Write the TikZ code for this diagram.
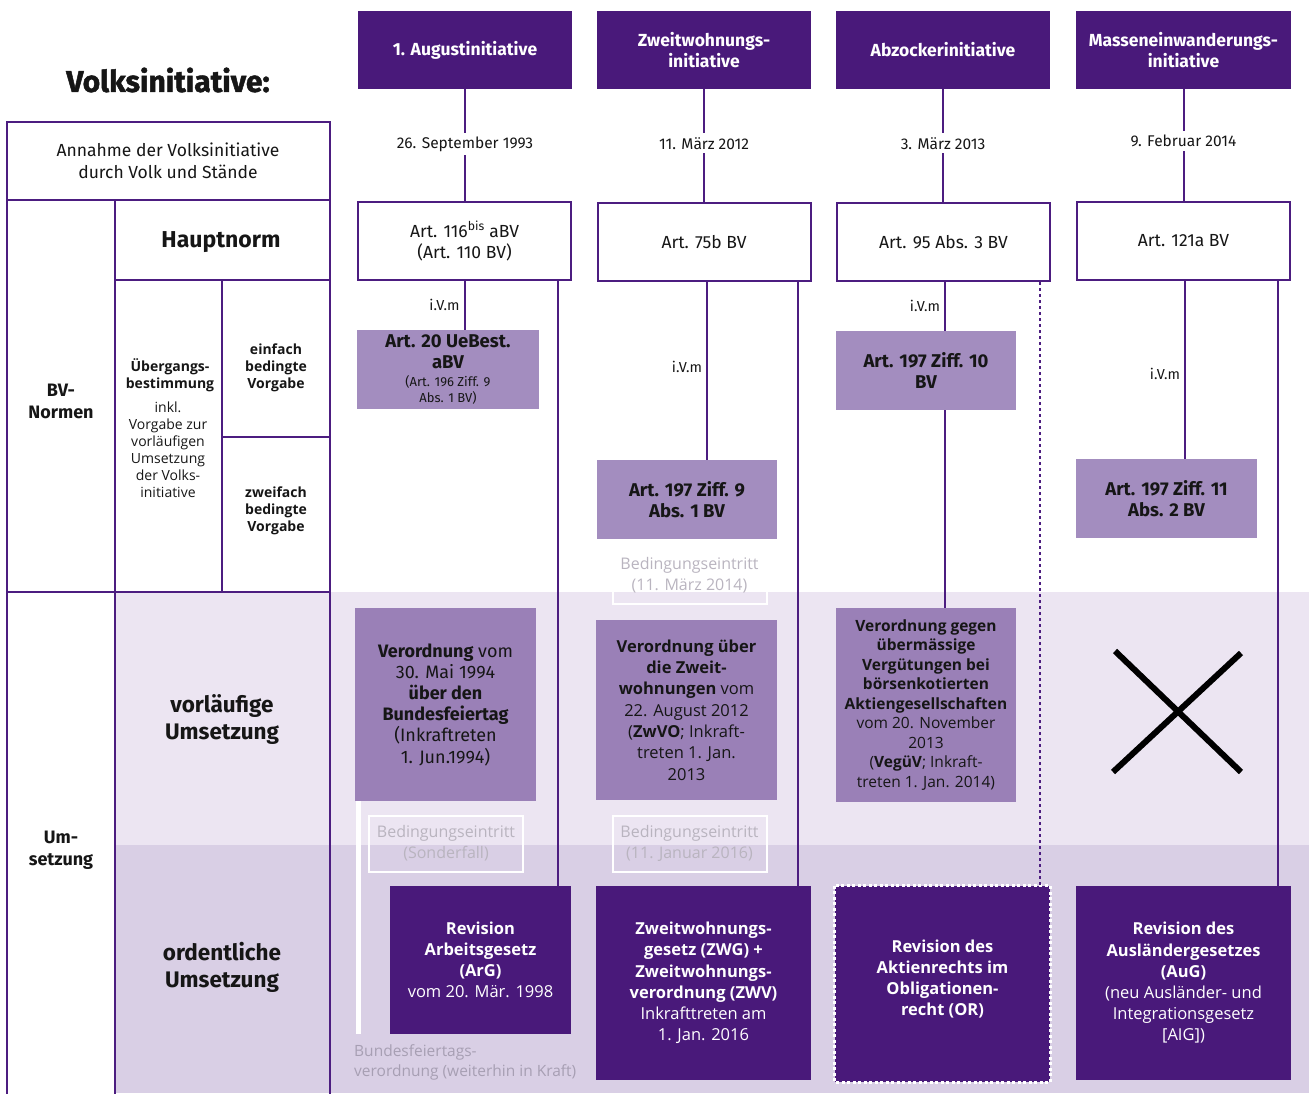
\documentclass[tikz,border=0pt]{standalone}
\usepackage{fontspec}
\setmainfont{Fira Sans}
\newfontfamily\wf{Open Sans}
\newfontfamily\heavyf[BoldFeatures={FakeBold=1.6}]{Fira Sans}
\usetikzlibrary{calc}
\definecolor{dpur}{HTML}{49197A}
\definecolor{lnpur}{HTML}{4C1D80}
\definecolor{mpA}{HTML}{A38DBF}
\definecolor{mpB}{HTML}{9A80B7}
\definecolor{bandA}{HTML}{ECE5F2}
\definecolor{bandB}{HTML}{D9CFE5}
\definecolor{bedgray}{HTML}{B9B4BF}
\definecolor{bftgray}{HTML}{A79FB3}
\definecolor{ink}{HTML}{161616}
\newcommand\fsz[2]{\fontsize{#1pt}{#2pt}\selectfont}
\begin{document}
\begin{tikzpicture}[x=1pt,y=-1pt,
  hdr/.style={fill=dpur, text=white, font=\bfseries\fsz{17.5}{21}, minimum width=214pt, minimum height=78pt, inner sep=0pt, align=center},
  hn/.style={draw=lnpur, line width=2pt, fill=white, text=ink, minimum width=213pt, minimum height=78pt, inner sep=0pt, font=\fsz{17.5}{21}, align=center},
  artb/.style={fill=mpA, text=ink, inner sep=0pt, font=\bfseries\fsz{18.5}{21}, align=center},
  vob/.style={fill=mpB, text=ink, inner sep=0pt, align=center},
  rev/.style={fill=dpur, text=white, inner sep=0pt, align=center, font=\wf\fsz{16.5}{21.2}},
  datelab/.style={font=\fsz{15.5}{18}, fill=white, text=ink, inner sep=4pt},
  ivm/.style={font=\fsz{14.5}{16}, text=ink, inner sep=4pt},
  bed/.style={draw=white, line width=2pt, text=bedgray, font=\wf\fsz{16}{21}, minimum width=154pt, minimum height=56pt, inner sep=0pt, align=center},
  conn/.style={draw=lnpur, line width=2pt},
  tbl/.style={draw=lnpur, line width=2pt},
  ltxt/.style={text=ink, align=center, inner sep=0pt}
]
\useasboundingbox (0,0) rectangle (1309,1093);
% background bands
\fill[bandA] (115,592) rectangle (1309,845);
\fill[bandB] (115,845) rectangle (1309,1093);

% left table
\draw[tbl] (7,1094) -- (7,122) -- (330,122) -- (330,1094);
\draw[tbl] (7,200) -- (330,200);
\draw[tbl] (115,200) -- (115,1094);
\draw[tbl] (115,280) -- (330,280);
\draw[tbl] (222,280) -- (222,592);
\draw[tbl] (222,437) -- (330,437);
\draw[tbl] (7,592) -- (330,592);

\node[ltxt, font=\heavyf\bfseries\fsz{30}{32}] (vtitle) at (168,80) {Volksinitiative:};
\node[ltxt, font=\fsz{17.5}{22}] (ann) at (168,161) {Annahme der Volksinitiative\\durch Volk und Stände};
\node[ltxt, font=\bfseries\fsz{23}{27}] (hpt) at (221,242.5) {Hauptnorm};
\node[ltxt, font=\bfseries\fsz{18}{22}] (bvn) at (61,401) {BV-\\Normen};
\node[ltxt, font=\wf\bfseries\fsz{14}{17}] (ueb) at (170,375.5) {Übergangs-\\bestimmung};
\node[ltxt, font=\wf\fsz{14}{17}] (inkl) at (168,449.5) {inkl.\\Vorgabe zur\\vorläufigen\\Umsetzung\\der Volks-\\initiative};
\node[ltxt, font=\wf\bfseries\fsz{14}{17}] (einf) at (276,368) {einfach\\bedingte\\Vorgabe};
\node[ltxt, font=\wf\bfseries\fsz{14}{17}] (zwei) at (276,511) {zweifach\\bedingte\\Vorgabe};
\node[ltxt, font=\bfseries\fsz{22.5}{27}] (vorl) at (222,719.5) {vorläufige\\Umsetzung};
\node[ltxt, font=\bfseries\fsz{22.5}{27}] (ord) at (222,967.5) {ordentliche\\Umsetzung};
\node[ltxt, font=\bfseries\fsz{18}{22}] (ums) at (61,850) {Um-\\setzung};

% headers
\node[hdr] (h1) at (465,50) {1. Augustinitiative};
\node[hdr] (h2) at (704,50) {Zweitwohnungs-\\initiative};
\node[hdr] (h3) at (943,50) {Abzockerinitiative};
\node[hdr, minimum width=215pt] (h4) at (1183.5,50) {Masseneinwanderungs-\\initiative};

% Hauptnorm boxes
\node[hn] (hn1) at (464.5,241) {Art. 116\textsuperscript{bis} aBV\\(Art. 110 BV)};
\node[hn] (hn2) at (704,242) {Art. 75b BV};
\node[hn] (hn3) at (943.5,242) {Art. 95 Abs. 3 BV};
\node[hn] (hn4) at (1183.5,241) {Art. 121a BV};

% Art boxes (Uebergangsbestimmungen)
\node[artb, minimum width=182pt, minimum height=79pt] (m1) at (448,369.5)
  {Art. 20 UeBest.\\aBV\\[-3pt]{\mdseries\fsz{13}{15}(Art. 196 Ziff. 9}\\[-5pt]{\mdseries\fsz{13}{15}Abs. 1 BV)}};
\node[artb, minimum width=180pt, minimum height=79pt] (m2) at (687,499.5) {Art. 197 Ziff. 9\\Abs. 1 BV};
\node[artb, minimum width=180pt, minimum height=79pt] (m3) at (926,370.5) {Art. 197 Ziff. 10\\BV};
\node[artb, minimum width=181pt, minimum height=79pt] (m4) at (1166.5,498.5) {Art. 197 Ziff. 11\\Abs. 2 BV};

% Verordnungen (vorlaeufige Umsetzung)
\node[vob, minimum width=181pt, minimum height=193pt, font=\fsz{18}{21.2}] (v1) at (445.5,704.5)
  {\textbf{Verordnung} vom\\30. Mai 1994\\\textbf{über den}\\\textbf{Bundesfeiertag}\\(Inkraftreten\\1. Jun.1994)};
\node[vob, minimum width=181pt, minimum height=180pt, font=\wf\fsz{16.5}{21.3}] (v2) at (686.5,710)
  {\textbf{Verordnung über}\\\textbf{die Zweit-}\\\textbf{wohnungen} vom\\22. August 2012\\(\textbf{ZwVO}; Inkraft-\\treten 1. Jan.\\2013};
\node[vob, minimum width=180pt, minimum height=194pt, font=\wf\fsz{15.5}{19.5}] (v3) at (926,705)
  {\textbf{Verordnung gegen}\\\textbf{übermässige}\\\textbf{Vergütungen bei}\\\textbf{börsenkotierten}\\\textbf{Aktiengesellschaften}\\vom 20. November\\2013\\(\textbf{VegüV}; Inkraft-\\treten 1. Jan. 2014)};

% ordentliche Umsetzung
\node[rev, minimum width=181pt, minimum height=148pt] (b1) at (480.5,960)
  {\textbf{Revision}\\\textbf{Arbeitsgesetz}\\\textbf{(ArG)}\\vom 20. Mär. 1998};
\node[rev, minimum width=215pt, minimum height=194pt] (b2) at (703.5,983)
  {\textbf{Zweitwohnungs-}\\\textbf{gesetz (ZWG) +}\\\textbf{Zweitwohnungs-}\\\textbf{verordnung (ZWV)}\\Inkrafttreten am\\1. Jan. 2016};
\node[rev, minimum width=215pt, minimum height=196pt] (b3) at (942.5,984) {};
\draw[white, line width=3pt, dash pattern=on 3pt off 2.5pt] (b3.north west) rectangle (b3.south east);
\node[text=white, align=center, font=\wf\bfseries\fsz{16.5}{21.3}] (b3t) at (942.5,979)
  {Revision des\\Aktienrechts im\\Obligationen-\\recht (OR)};
\node[rev, minimum width=215pt, minimum height=194pt] (b4) at (1183.5,983)
  {\textbf{Revision des}\\\textbf{Ausländergesetzes}\\\textbf{(AuG)}\\(neu Ausländer- und\\Integrationsgesetz\\{}[AIG])};

% Bedingungseintritt boxes
\node[bed] (be0) at (689.5,575.5) {Bedingungseintritt\\(11. März 2014)};
\node[bed] (be1) at (446,843.5) {Bedingungseintritt\\(Sonderfall)};
\node[bed] (be2) at (689.5,843.5) {Bedingungseintritt\\(11. Januar 2016)};

% Bundesfeiertagsverordnung continues
\coordinate (wlend) at (358.5,1034);
\draw[white, line width=5pt] (v1.south west -| wlend) -- (wlend);
\node[anchor=west, align=left, inner sep=0pt, text=bftgray, font=\wf\fsz{15.5}{20}] (bft) at (354,1062)
  {Bundesfeiertags-\\verordnung (weiterhin in Kraft)};

% connectors: header -> Hauptnorm with dates
\draw[conn] (h1.south) -- (h1.south |- hn1.north) node[datelab, pos=0.49] {26. September 1993};
\draw[conn] (h2.south) -- (h2.south |- hn2.north) node[datelab, pos=0.48] {11. März 2012};
\draw[conn] (h3.south) -- (h3.south |- hn3.north) node[datelab, pos=0.48] {3. März 2013};
\draw[conn] (h4.south) -- (h4.south |- hn4.north) node[datelab, pos=0.46] {9. Februar 2014};

% Hauptnorm -> Uebergangsbestimmung (i.V.m)
\draw[conn] (hn1.south) -- (hn1.south |- m1.north) node[ivm, pos=0.5, left] {i.V.m};
\draw[conn] ([xshift=3pt]hn2.south) -- ([xshift=3pt]hn2.south |- m2.north) node[ivm, pos=0.48, left] {i.V.m};
\draw[conn] ([xshift=1.5pt]hn3.south) -- ([xshift=1.5pt]hn3.south |- m3.north) node[ivm, pos=0.5, left] {i.V.m};
\draw[conn] ([xshift=1.5pt]hn4.south) -- ([xshift=1.5pt]hn4.south |- m4.north) node[ivm, pos=0.52, left] {i.V.m};
\draw[conn] ([xshift=1.5pt]hn3.south |- m3.south) -- ([xshift=1.5pt]hn3.south |- v3.north);

% Hauptnorm -> ordentliche Umsetzung
\draw[conn] ([xshift=-14.5pt]hn1.south east) -- ([xshift=-14.5pt]hn1.south east |- b1.north);
\draw[conn] ([xshift=-13.5pt]hn2.south east) -- ([xshift=-13.5pt]hn2.south east |- b2.north);
\draw[conn, dash pattern=on 2.5pt off 3.5pt] ([xshift=-11pt]hn3.south east) -- ([xshift=-11pt]hn3.south east |- b3.north);
\draw[conn] ([xshift=-13pt]hn4.south east) -- ([xshift=-13pt]hn4.south east |- b4.north);

% no provisional implementation
\draw[black, line width=6pt] (1115,651) -- (1241,772);
\draw[black, line width=6pt] (1241,653) -- (1113,772);
\end{tikzpicture}
\end{document}
